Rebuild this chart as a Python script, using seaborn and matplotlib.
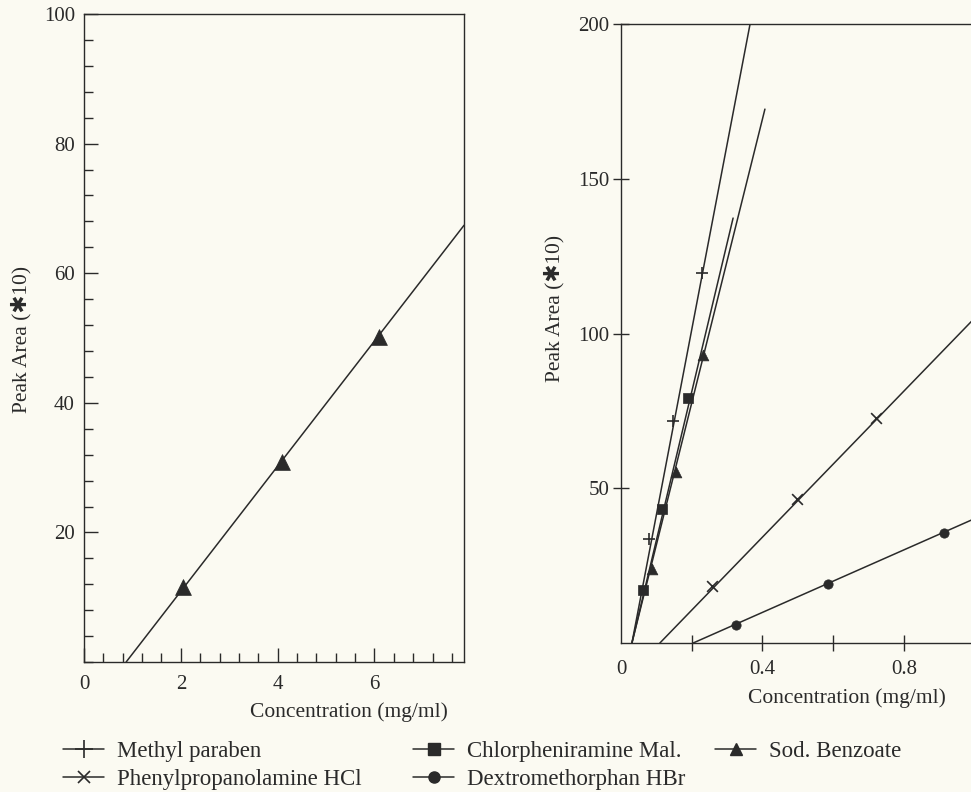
import matplotlib
matplotlib.use("Agg")
import matplotlib.pyplot as plt
from matplotlib.lines import Line2D
from matplotlib.ticker import MultipleLocator
import seaborn as sns

# ---- data ----
# left panel: Sod. Benzoate, 0-8 mg/ml
sb_conc = [2.05, 4.08, 6.09]
sb_area = [11.6, 30.9, 50.2]
sb_fit_x = [0.87, 7.85]
sb_fit_y = [0.0, 67.4]

# right panel, 0-1 mg/ml
mp_conc = [0.079, 0.147, 0.229]          # Methyl paraben
mp_area = [33.6, 71.7, 119.5]
mp_fit_x = [0.031, 0.365]
mp_fit_y = [0.0, 200.0]

cm_conc = [0.062, 0.116, 0.189]          # Chlorpheniramine Mal.
cm_area = [17.1, 43.3, 79.2]
cm_fit_x = [0.031, 0.317]
cm_fit_y = [0.0, 137.3]

sbr_conc = [0.088, 0.155, 0.232]         # Sod. Benzoate
sbr_area = [23.9, 55.3, 93.0]
sbr_fit_x = [0.031, 0.407]
sbr_fit_y = [0.0, 172.5]

pp_conc = [0.257, 0.498, 0.721]          # Phenylpropanolamine HCl
pp_area = [18.4, 46.5, 72.7]
pp_fit_x = [0.110, 1.0]
pp_fit_y = [0.0, 105.0]

dm_conc = [0.325, 0.585, 0.913]          # Dextromethorphan HBr
dm_area = [5.8, 19.1, 35.5]
dm_fit_x = [0.204, 1.0]
dm_fit_y = [0.0, 40.2]

legend_names = ["Methyl paraben", "Phenylpropanolamine HCl",
                "Chlorpheniramine Mal.", "Dextromethorphan HBr", "Sod. Benzoate"]

ink = "#2a2a2a"
paper = "#fbfaf2"

sns.set_style("ticks")
plt.rcParams["font.family"] = ["Liberation Serif", "DejaVu Sans", "Noto Sans CJK JP"]
plt.rcParams["font.size"] = 15
plt.rcParams["text.color"] = ink
plt.rcParams["axes.labelcolor"] = ink
plt.rcParams["xtick.color"] = ink
plt.rcParams["ytick.color"] = ink
plt.rcParams["axes.edgecolor"] = ink
plt.rcParams["axes.linewidth"] = 1.0

fig = plt.figure(figsize=(9.71, 7.92), dpi=100, facecolor=paper)
ax1 = fig.add_axes([0.0865, 0.1641, 0.3914, 0.8182])
ax2 = fig.add_axes([0.6395, 0.1881, 0.3643, 0.7816])
for ax in (ax1, ax2):
    ax.set_facecolor(paper)


def draw(ax, fx, fy, px, py, marker, s, filled=True):
    sns.lineplot(x=fx, y=fy, ax=ax, color=ink, linewidth=1.1,
                 estimator=None, sort=False)
    if filled:
        sns.scatterplot(x=px, y=py, ax=ax, marker=marker, s=s, color=ink,
                        edgecolor=ink, linewidth=0.5, zorder=3)
    else:
        sns.scatterplot(x=px, y=py, ax=ax, marker=marker, s=s, color=ink,
                        linewidth=1.2, zorder=3)


# left panel
draw(ax1, sb_fit_x, sb_fit_y, sb_conc, sb_area, "^", 130)
ax1.set_xlim(0, 7.85)
ax1.set_ylim(0, 100)
ax1.set_xticks([0, 2, 4, 6])
ax1.set_yticks([20, 40, 60, 80, 100])
ax1.xaxis.set_minor_locator(MultipleLocator(0.4))
ax1.yaxis.set_minor_locator(MultipleLocator(4))
ax1.tick_params(which="major", direction="in", length=10, width=1.0, labelsize=15)
ax1.tick_params(which="minor", direction="in", length=6.5, width=1.0)
ax1.tick_params(axis="y", which="major", pad=6.5)
ax1.tick_params(axis="x", which="major", pad=9)
for sp in ax1.spines.values():
    sp.set_visible(True)

# right panel
draw(ax2, mp_fit_x, mp_fit_y, mp_conc, mp_area, "+", 70, filled=False)
draw(ax2, cm_fit_x, cm_fit_y, cm_conc, cm_area, "s", 50)
draw(ax2, sbr_fit_x, sbr_fit_y, sbr_conc, sbr_area, "^", 60)
draw(ax2, pp_fit_x, pp_fit_y, pp_conc, pp_area, "x", 60, filled=False)
draw(ax2, dm_fit_x, dm_fit_y, dm_conc, dm_area, "o", 45)
ax2.set_xlim(0, 1.0)
ax2.set_ylim(0, 200)
ax2.set_xticks([0, 0.4, 0.8])
ax2.set_xticklabels(["0", "0.4", "0.8"])
ax2.set_xticks([0.2, 0.6], minor=True)
ax2.set_yticks([50, 100, 150, 200])
ax2.tick_params(which="both", direction="inout", length=11, width=1.0, labelsize=15)
ax2.tick_params(axis="y", pad=3)
ax2.tick_params(axis="x", pad=7)
ax2.xaxis.get_major_ticks()[0].tick1line.set_visible(False)
ax2.spines["right"].set_visible(False)
ax2.spines["top"].set_visible(True)

ylab = "Peak Area (✱10)"
ax1.set_xlabel("Concentration (mg/ml)", fontsize=15.5)
ax1.set_ylabel(ylab, fontsize=15.5)
ax1.xaxis.set_label_coords(0.697, -0.062)
ax1.yaxis.set_label_coords(-0.137, 0.498)
ax2.set_xlabel("Concentration (mg/ml)", fontsize=15.5)
ax2.set_ylabel(ylab, fontsize=15.5)
ax2.xaxis.set_label_coords(0.639, -0.073)
ax2.yaxis.set_label_coords(-0.161, 0.541)

# legend below, three columns
handles = [
    Line2D([], [], color=ink, lw=1.1, marker="+", ms=13, mew=1.2),
    Line2D([], [], color=ink, lw=1.1, marker="x", ms=9, mew=1.2),
    Line2D([], [], color=ink, lw=1.1, marker="s", ms=9),
    Line2D([], [], color=ink, lw=1.1, marker="o", ms=8),
    Line2D([], [], color=ink, lw=1.1, marker="^", ms=9),
]
cols = [(0.0649, [0, 1]), (0.4253, [2, 3]), (0.7364, [4])]
for xpos, idx in cols:
    fig.legend([handles[i] for i in idx], [legend_names[i] for i in idx],
               loc="upper left", bbox_to_anchor=(xpos, 0.064), frameon=False,
               borderpad=0, borderaxespad=0, handlelength=1.8,
               handletextpad=0.55, labelspacing=0.3, fontsize=16.5)

fig.savefig("out.png", dpi=100, facecolor=paper)
